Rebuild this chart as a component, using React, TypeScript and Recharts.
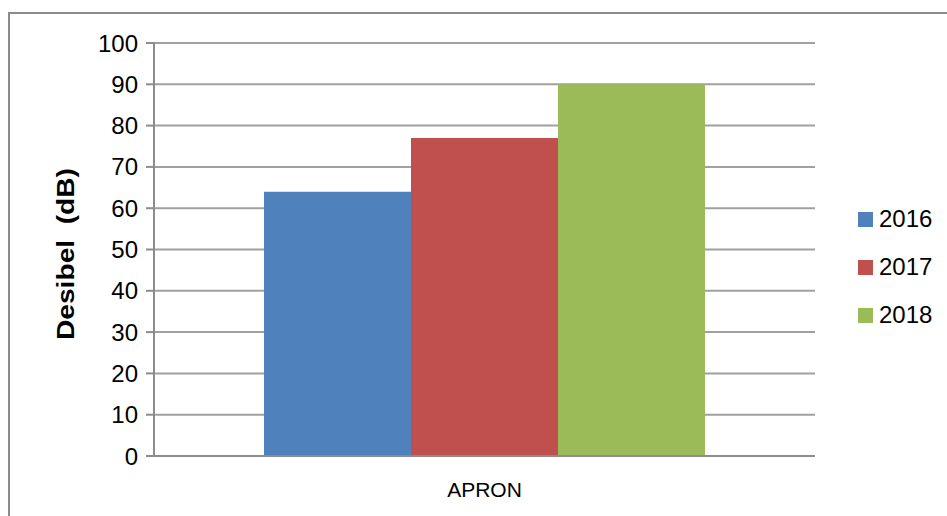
import React from "react";
import {
  BarChart, Bar, XAxis, YAxis, CartesianGrid, Label,
} from "recharts";

const categories = ["APRON"];
const values2016 = [64];
const values2017 = [77];
const values2018 = [90];
const yTicks = [0, 10, 20, 30, 40, 50, 60, 70, 80, 90, 100];

const seriesList = [
  { key: "2016", color: "#4F81BD" },
  { key: "2017", color: "#C0504D" },
  { key: "2018", color: "#9BBB59" },
];

const data = categories.map((name, i) => ({
  name,
  "2016": values2016[i],
  "2017": values2017[i],
  "2018": values2018[i],
}));

const FONT = "'Liberation Sans', Arial, sans-serif";

function LegendBox() {
  return (
    <div style={{ position: "absolute", left: 858, top: 195, fontFamily: FONT }}>
      {seriesList.map((s) => (
        <div key={s.key} style={{ display: "flex", alignItems: "center", height: 48 }}>
          <span style={{ width: 15, height: 15, background: s.color, marginRight: 6 }} />
          <span style={{ fontSize: 24, color: "#000" }}>{s.key}</span>
        </div>
      ))}
    </div>
  );
}

export default function App() {
  return (
    <div style={{ position: "absolute", left: 0, top: 0, width: 947, height: 516, background: "#fff", overflow: "hidden" }}>
      <div
        style={{
          position: "absolute", left: 8, top: 12, width: 960, height: 520,
          borderLeft: "2px solid #8c8c8c", borderTop: "2px solid #8c8c8c",
        }}
      />
      <BarChart
        width={947}
        height={516}
        data={data}
        margin={{ top: 43, right: 132, left: 0, bottom: 0 }}
        barCategoryGap={110}
        barGap={0}
        style={{ position: "absolute", left: 0, top: 0 }}
      >
        <CartesianGrid vertical={false} stroke="#a0a0a0" strokeWidth={2} />
        <XAxis
          dataKey="name"
          height={60}
          tickLine={false}
          axisLine={{ stroke: "#8c8c8c", strokeWidth: 2 }}
          tick={{ fill: "#000", fontSize: 21, fontFamily: FONT, dy: 18 }}
        />
        <YAxis
          width={154}
          domain={[0, 100]}
          ticks={yTicks}
          interval={0}
          tickSize={8}
          tickMargin={8}
          axisLine={{ stroke: "#8c8c8c", strokeWidth: 2 }}
          tickLine={{ stroke: "#8c8c8c", strokeWidth: 2 }}
          tick={{ fill: "#000", fontSize: 24, fontFamily: FONT }}
        >
          <Label
            value="Desibel  (dB)"
            position="insideLeft"
            content={() => (
              <text
                x={0}
                y={0}
                transform="translate(74,254) rotate(-90)"
                textAnchor="middle"
                fontFamily={FONT}
                fontWeight="bold"
                fontSize={24}
                textLength={172}
                lengthAdjust="spacingAndGlyphs"
                fill="#000"
                style={{ whiteSpace: "pre" }}
              >
                Desibel  (dB)
              </text>
            )}
          />
        </YAxis>
        {seriesList.map((s) => (
          <Bar key={s.key} dataKey={s.key} fill={s.color} isAnimationActive={false} />
        ))}
      </BarChart>
      <LegendBox />
    </div>
  );
}
